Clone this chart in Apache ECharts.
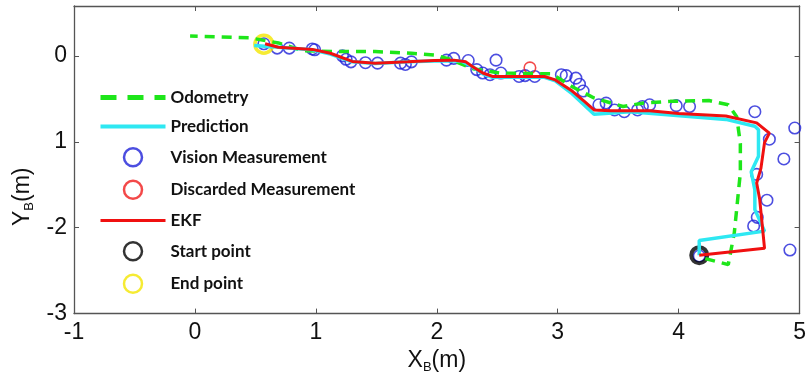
<!DOCTYPE html>
<html>
<head>
<meta charset="utf-8">
<script src="https://cdn.jsdelivr.net/npm/echarts@6/dist/echarts.min.js"></script>
<style>
  html, body { margin: 0; padding: 0; background: #fff; }
  #chart { width: 809px; height: 379px; }
</style>
</head>
<body>
<div id="chart"></div>
<script>
// trajectories in travel order: start point -> end point
const odometry = [
  [4.22, -2.36], [4.41, -2.43], [4.46, -2.06], [4.51, -1.36], [4.51, -1.02],
  [4.48, -0.71], [4.41, -0.57], [4.25, -0.52], [3.93, -0.53], [3.71, -0.55],
  [3.54, -0.59], [3.30, -0.49], [3.12, -0.36], [2.95, -0.21], [2.52, -0.20],
  [2.30, -0.15], [2.11, -0.04], [1.98, 0.01], [1.79, 0.03], [1.49, 0.05],
  [1.19, 0.05], [0.89, 0.06], [0.69, 0.15], [0.45, 0.21], [-0.04, 0.23]
]
const prediction = [
  [4.17, -2.32], [4.17, -2.15], [4.71, -2.04], [4.63, -1.79], [4.63, -1.56],
  [4.60, -1.35], [4.66, -1.17], [4.66, -0.86], [4.63, -0.82], [4.39, -0.74],
  [3.60, -0.65], [3.30, -0.68], [3.11, -0.43], [2.98, -0.29], [2.89, -0.25],
  [2.46, -0.25], [2.38, -0.21], [2.30, -0.13], [2.20, -0.06], [1.98, -0.06],
  [1.76, -0.07], [1.49, -0.09], [1.30, -0.07], [1.12, 0.02], [0.97, 0.07],
  [0.69, 0.10], [0.49, 0.12]
]
const ekf = [
  [4.17, -2.32], [4.71, -2.24], [4.67, -1.67], [4.645, -1.48], [4.68, -1.31],
  [4.71, -1.01], [4.75, -0.90], [4.645, -0.78], [4.39, -0.70], [4.00, -0.67],
  [3.76, -0.64], [3.44, -0.64], [3.30, -0.63], [3.22, -0.53], [3.11, -0.40],
  [2.98, -0.28], [2.89, -0.24], [2.46, -0.24], [2.38, -0.20], [2.30, -0.13],
  [2.24, -0.07], [2.14, -0.05], [1.98, -0.055], [1.76, -0.07], [1.49, -0.085],
  [1.30, -0.065], [1.12, 0.03], [0.97, 0.075], [0.69, 0.10], [0.58, 0.14]
]
const vision = [
  [0.57, 0.14], [0.68, 0.09], [0.78, 0.09], [0.97, 0.08], [0.99, 0.07],
  [1.22, 0.00], [1.25, -0.04], [1.29, -0.07], [1.41, -0.08], [1.51, -0.085],
  [1.70, -0.085], [1.74, -0.10], [1.79, -0.07], [2.08, -0.05], [2.14, -0.03],
  [2.26, -0.055], [2.33, -0.16], [2.38, -0.20], [2.44, -0.22], [2.49, -0.05],
  [2.53, -0.20], [2.68, -0.24], [2.73, -0.23], [2.81, -0.24], [3.03, -0.22],
  [3.07, -0.23], [3.15, -0.26], [3.18, -0.33], [3.21, -0.41], [3.34, -0.57],
  [3.40, -0.55], [3.47, -0.63], [3.55, -0.65], [3.66, -0.63], [3.70, -0.59],
  [3.76, -0.57], [3.98, -0.58], [4.09, -0.59], [4.63, -0.65], [4.96, -0.84],
  [4.75, -0.97], [4.87, -1.20], [4.645, -1.38], [4.73, -1.68], [4.65, -1.88],
  [4.62, -1.98], [4.92, -2.26], [4.17, -2.33]
]
const discarded = [[2.77, -0.14]]
const startPoint = [[4.17, -2.32]]
const endPoint = [[0.57, 0.135]]

// tick labels as printed on the figure
const yTickLabels = { '-3': '-3', '-2': '-2', '-1': '1', '0': '0' }

const tickFont = 'Liberation Sans'
const noDot = { color: 'rgba(0,0,0,0)', borderWidth: 0 }

const ring = (name, data, color, size, width) => ({
  name: name,
  type: 'scatter',
  data: data,
  symbol: 'circle',
  symbolSize: size,
  itemStyle: { color: 'rgba(0,0,0,0)', borderColor: color, borderWidth: width },
  emphasis: { disabled: true }
})

const chart = echarts.init(document.getElementById('chart'))
chart.setOption({
  animation: false,
  grid: { left: 74, right: -3, top: 6, bottom: 64 },
  legend: {
    orient: 'vertical',
    left: 93,
    top: 84,
    itemWidth: 65,
    itemHeight: 18,
    itemGap: 12,
    textStyle: { fontFamily: 'Lato', fontWeight: 'bold', fontSize: 17, color: '#111' },
    data: [
      { name: 'Odometry', itemStyle: noDot, lineStyle: { width: 5, type: [16, 11] } },
      { name: 'Prediction', itemStyle: noDot, lineStyle: { width: 4 } },
      { name: 'Vision Measurement', itemStyle: { borderWidth: 2.5 } },
      { name: 'Discarded Measurement', itemStyle: { borderWidth: 2.5 } },
      { name: 'EKF', itemStyle: noDot, lineStyle: { width: 3 } },
      { name: 'Start point', itemStyle: { borderWidth: 2.5 } },
      { name: 'End point', itemStyle: { borderWidth: 2.5 } }
    ]
  },
  xAxis: [
    {
      type: 'value',
      min: -1,
      max: 5,
      interval: 1,
      name: '{t|X}{s|B}{t|(m)}',
      nameLocation: 'middle',
      nameGap: 27,
      nameTextStyle: {
        rich: {
          t: { fontFamily: tickFont, fontSize: 23, color: '#111', lineHeight: 26 },
          s: { fontFamily: tickFont, fontSize: 13, color: '#111', lineHeight: 26, verticalAlign: 'bottom', padding: [8, 0, 0, 0] }
        }
      },
      axisLine: { onZero: false, lineStyle: { color: '#555', width: 1.3 } },
      axisTick: { inside: true, length: 5, lineStyle: { color: '#555' } },
      axisLabel: { fontFamily: tickFont, fontSize: 23, color: '#111', margin: 8 },
      splitLine: { show: false }
    },
    {
      type: 'value',
      position: 'top',
      min: -1,
      max: 5,
      interval: 1,
      axisLine: { show: true, onZero: false, lineStyle: { color: '#555', width: 1.3 } },
      axisTick: { show: true, inside: true, length: 5, lineStyle: { color: '#555' } },
      axisLabel: { show: false },
      splitLine: { show: false }
    }
  ],
  yAxis: [
    {
      type: 'value',
      min: -3,
      max: 0.58,
      interval: 1,
      name: '{t|Y}{s|B}{t|(m)}',
      nameLocation: 'middle',
      nameGap: 37,
      nameRotate: 90,
      nameTextStyle: {
        padding: [0, 74, 0, 0],
        rich: {
          t: { fontFamily: tickFont, fontSize: 23, color: '#111', lineHeight: 26 },
          s: { fontFamily: tickFont, fontSize: 13, color: '#111', lineHeight: 26, verticalAlign: 'bottom', padding: [8, 0, 0, 0] }
        }
      },
      axisLine: { onZero: false, lineStyle: { color: '#555', width: 1.3 } },
      axisTick: { inside: true, length: 5, lineStyle: { color: '#555' } },
      axisLabel: {
        fontFamily: tickFont, fontSize: 23, color: '#111', margin: 7,
        showMaxLabel: false,
        formatter: (v) => yTickLabels[String(v)] || ''
      },
      splitLine: { show: false }
    },
    {
      type: 'value',
      position: 'right',
      min: -3,
      max: 0.58,
      interval: 1,
      axisLine: { show: true, onZero: false, lineStyle: { color: '#555', width: 1.3 } },
      axisTick: { show: true, inside: true, length: 5, lineStyle: { color: '#555' } },
      axisLabel: { show: false },
      splitLine: { show: false }
    }
  ],
  series: [
    {
      name: 'Odometry',
      type: 'line',
      data: odometry,
      symbol: 'none',
      lineStyle: { color: '#1ee61a', width: 3.5, type: [10, 7] },
      itemStyle: { color: '#1ee61a' }
    },
    {
      name: 'Prediction',
      type: 'line',
      data: prediction,
      symbol: 'none',
      lineStyle: { color: '#2ee8f2', width: 3.5 },
      itemStyle: { color: '#2ee8f2' }
    },
    ring('Vision Measurement', vision, '#1f22d8', 11.5, 1.6),
    ring('Discarded Measurement', discarded, '#f01c1c', 11.5, 1.6),
    {
      name: 'EKF',
      type: 'line',
      data: ekf,
      symbol: 'none',
      lineStyle: { color: '#f01010', width: 3 },
      itemStyle: { color: '#f01010' }
    },
    ring('Start point', startPoint, '#000', 16, 4),
    ring('End point', endPoint, '#f4e600', 18, 3.5)
  ]
})
</script>
</body>
</html>
